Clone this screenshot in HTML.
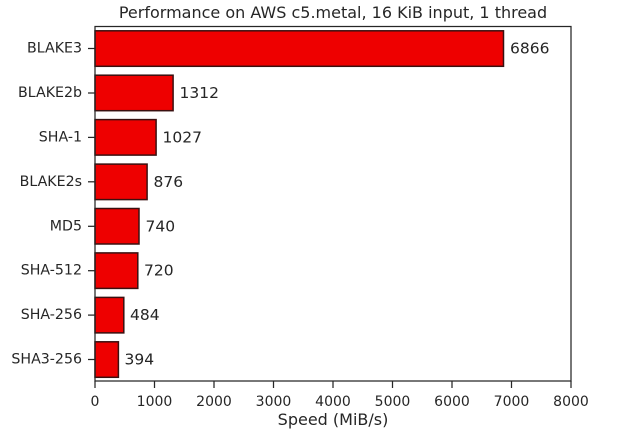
<!DOCTYPE html>
<html><head><style>body{margin:0;background:#fff}svg{display:block}text{font-family:"DejaVu Sans","Liberation Sans",sans-serif;fill:#262626}</style></head><body>
<svg width="631" height="445" xmlns="http://www.w3.org/2000/svg">
<text x="333" y="18" font-size="16" text-anchor="middle">Performance on AWS c5.metal, 16 KiB input, 1 thread</text>
<g fill="#ee0000" stroke="#3a1010" stroke-width="1.5">
<rect x="95" y="30.8" width="408.5" height="35.5"/>
<rect x="95" y="75.2" width="78.1" height="35.5"/>
<rect x="95" y="119.6" width="61.1" height="35.5"/>
<rect x="95" y="164.1" width="52.1" height="35.5"/>
<rect x="95" y="208.5" width="44.0" height="35.5"/>
<rect x="95" y="252.9" width="42.8" height="35.5"/>
<rect x="95" y="297.4" width="28.8" height="35.5"/>
<rect x="95" y="341.8" width="23.4" height="35.5"/>
</g>
<rect x="95" y="26.5" width="476" height="354.5" fill="none" stroke="#262626" stroke-width="1.25"/>
<g font-size="15.5" dominant-baseline="central">
<text x="510" y="48.5">6866</text><text x="179.5" y="93">1312</text><text x="162.5" y="137.4">1027</text>
<text x="153.5" y="181.8">876</text><text x="145.5" y="226.3">740</text><text x="144" y="270.7">720</text>
<text x="130" y="315.1">484</text><text x="124.5" y="359.5">394</text>
</g>
<g font-size="14.2" text-anchor="end" dominant-baseline="central">
<text x="82" y="48.5">BLAKE3</text><text x="82" y="93">BLAKE2b</text><text x="82" y="137.4">SHA-1</text>
<text x="82" y="181.8">BLAKE2s</text><text x="82" y="226.3">MD5</text><text x="82" y="270.7">SHA-512</text>
<text x="82" y="315.1">SHA-256</text><text x="82" y="359.5">SHA3-256</text>
</g>
<g stroke="#262626" stroke-width="1.25">
<line x1="88" x2="95" y1="48.5" y2="48.5"/><line x1="88" x2="95" y1="93" y2="93"/><line x1="88" x2="95" y1="137.4" y2="137.4"/><line x1="88" x2="95" y1="181.8" y2="181.8"/><line x1="88" x2="95" y1="226.3" y2="226.3"/><line x1="88" x2="95" y1="270.7" y2="270.7"/><line x1="88" x2="95" y1="315.1" y2="315.1"/><line x1="88" x2="95" y1="359.5" y2="359.5"/>
<line x1="95" x2="95" y1="381" y2="388"/><line x1="154.5" x2="154.5" y1="381" y2="388"/><line x1="214" x2="214" y1="381" y2="388"/><line x1="273.5" x2="273.5" y1="381" y2="388"/><line x1="333" x2="333" y1="381" y2="388"/><line x1="392.5" x2="392.5" y1="381" y2="388"/><line x1="452" x2="452" y1="381" y2="388"/><line x1="511.5" x2="511.5" y1="381" y2="388"/><line x1="571" x2="571" y1="381" y2="388"/>
</g>
<g font-size="14" text-anchor="middle">
<text x="95" y="406">0</text><text x="154.5" y="406">1000</text><text x="214" y="406">2000</text><text x="273.5" y="406">3000</text><text x="333" y="406">4000</text><text x="392.5" y="406">5000</text><text x="452" y="406">6000</text><text x="511.5" y="406">7000</text><text x="571" y="406">8000</text>
</g>
<text x="333" y="425" font-size="16" text-anchor="middle">Speed (MiB/s)</text>
</svg>
</body></html>
